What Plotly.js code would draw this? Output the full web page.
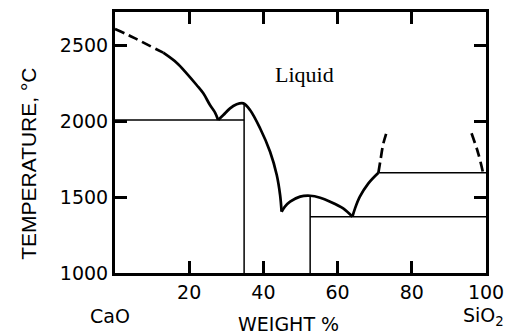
<!DOCTYPE html>
<html>
<head>
<meta charset="utf-8">
<script src="https://cdn.plot.ly/plotly-3.0.1.min.js"></script>
<style>html,body{margin:0;padding:0;background:#fff;}#chart{width:508px;height:336px;}</style>
</head>
<body>
<div id="chart"></div>
<script>
// Liquidus curves (wt% SiO2, temperature °C)
const liqCaODashX = [0, 3.2, 6.3, 13.0];
const liqCaODashT = [2608, 2573, 2535, 2452];
const liqCaOX = [13.0, 16.6, 19.3, 22.0, 23.8, 25.6, 27.0, 27.8];
const liqCaOT = [2452, 2386, 2316, 2239, 2184, 2107, 2056, 2008];
const liqC2SX = [27.8, 29.2, 31.0, 32.8, 34.6, 36.4, 39.1, 41.8, 43.6, 44.5, 44.9];
const liqC2ST = [2008, 2041, 2085, 2112, 2118, 2074, 1954, 1799, 1646, 1514, 1404];
const liqCSX = [44.9, 45.8, 47.2, 49.9, 52.6, 55.3, 58.0, 61.5, 64.0];
const liqCST = [1404, 1437, 1470, 1503, 1509, 1496, 1470, 1426, 1371];
const liqSiX = [64.0, 64.7, 66.0, 68.3, 71.0];
const liqSiT = [1371, 1426, 1503, 1591, 1661];
const immLeftX = [71.0, 71.6, 72.3, 73.4];
const immLeftT = [1661, 1750, 1850, 1942];
const immRightX = [96.1, 97.9, 99.2];
const immRightT = [1921, 1789, 1661];
// Solidus / compound lines
const eut1X = [0, 34.8], eut1T = [2008, 2008];
const c2sX = [34.8, 34.8], c2sT = [1000, 2118];
const csX = [52.6, 52.6], csT = [1000, 1509];
const eut2X = [52.6, 100], eut2T = [1371, 1371];
const monoX = [71.0, 100], monoT = [1661, 1661];
// Ticks
const xTickVals = [20, 40, 60, 80, 100];
const xTickText = ['20', '40', '60', '80', '100'];
const yTickVals = [1000, 1500, 2000, 2500];
const yTickText = ['1000', '1500', '2000', '2500'];

const thick = 2.7, thin = 1.5;
function tr(x, y, w, dash, spline) {
  return {x: x, y: y, mode: 'lines', hoverinfo: 'skip', showlegend: false,
    line: {color: '#000', width: w, dash: dash || 'solid', shape: spline ? 'spline' : 'linear', smoothing: 1}};
}
const data = [
  tr(eut1X, eut1T, thin), tr(c2sX, c2sT, thin), tr(csX, csT, thin),
  tr(eut2X, eut2T, thin), tr(monoX, monoT, thin),
  tr(liqCaODashX, liqCaODashT, thick, '10px,5px', true),
  tr(liqCaOX, liqCaOT, thick, null, true),
  tr(liqC2SX, liqC2ST, thick, null, true),
  tr(liqCSX, liqCST, thick, null, true),
  tr(liqSiX, liqSiT, thick, null, true),
  tr(immLeftX, immLeftT, thick, '10px,5px', true),
  tr(immRightX, immRightT, thick, '10px,5px', true)
];
const tickFont = {family: 'DejaVu Sans', size: 19, color: '#000'};
const layout = {
  width: 508, height: 336,
  margin: {l: 115, r: 22, t: 12, b: 63},
  showlegend: false,
  xaxis: {range: [0, 100], showgrid: false, zeroline: false,
    showline: true, linewidth: 3, linecolor: '#000', mirror: 'allticks',
    ticks: 'inside', ticklen: 12, tickwidth: 3, tickcolor: '#000',
    tickmode: 'array', tickvals: xTickVals, ticktext: xTickText, tickfont: tickFont},
  yaxis: {range: [1000, 2720], showgrid: false, zeroline: false,
    showline: true, linewidth: 3, linecolor: '#000', mirror: 'allticks',
    ticks: 'inside', ticklen: 12, tickwidth: 3, tickcolor: '#000',
    tickmode: 'array', tickvals: yTickVals, ticktext: yTickText, tickfont: tickFont},
  annotations: [
    {text: 'Liquid', x: 51.2, y: 2311, xref: 'x', yref: 'y', showarrow: false,
     xanchor: 'center', yanchor: 'middle',
     font: {family: 'Liberation Serif', size: 22, color: '#000'}},
    {text: 'CaO', x: -0.013, y: -0.165, xref: 'paper', yref: 'paper', showarrow: false,
     xanchor: 'center', yanchor: 'middle',
     font: {family: 'DejaVu Sans', size: 19, color: '#000'}},
    {text: 'SiO<sub>2</sub>', x: 0.992, y: -0.165, xref: 'paper', yref: 'paper', showarrow: false,
     xanchor: 'center', yanchor: 'middle',
     font: {family: 'DejaVu Sans', size: 19, color: '#000'}},
    {text: 'WEIGHT %', x: 0.469, y: -0.196, xref: 'paper', yref: 'paper', showarrow: false,
     xanchor: 'center', yanchor: 'middle',
     font: {family: 'DejaVu Sans', size: 19, color: '#000'}},
    {text: 'TEMPERATURE, °C', x: -0.232, y: 0.418, xref: 'paper', yref: 'paper', showarrow: false,
     xanchor: 'center', yanchor: 'middle', textangle: -90,
     font: {family: 'Liberation Sans', size: 21, color: '#000'}}
  ]
};
Plotly.newPlot('chart', data, layout, {displayModeBar: false});
</script>
</body>
</html>
